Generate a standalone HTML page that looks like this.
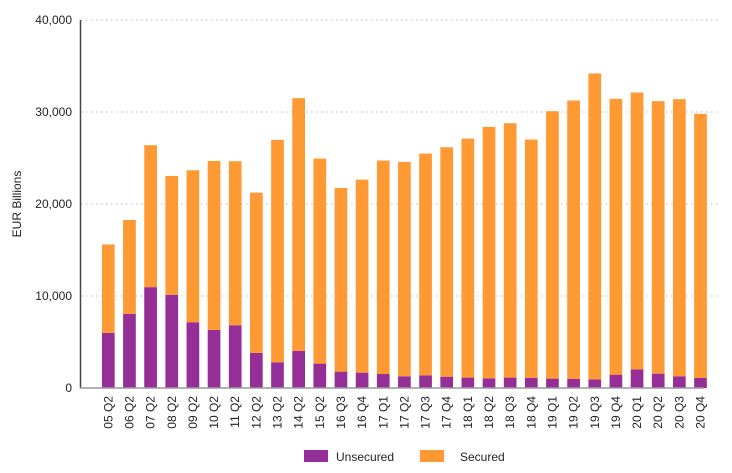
<!DOCTYPE html>
<html><head><meta charset="utf-8"><style>
body{margin:0;background:#fff;font-family:"Liberation Sans",sans-serif;}
svg text{font-family:"Liberation Sans",sans-serif;fill:#222;}
</style></head><body>
<svg id="chart" width="732" height="468">
<g id="grid"></g><g id="bars"></g><g id="axes"></g>
<text transform="translate(21,204) rotate(-90)" text-anchor="middle" font-size="12">EUR Billions</text>
<g>
<rect x="304" y="450" width="24" height="12" fill="#952f97"/>
<text x="336" y="461" font-size="12">Unsecured</text>
<rect x="420" y="450" width="24" height="12" fill="#ff9933"/>
<text x="460" y="461" font-size="12">Secured</text>
</g>
</svg>
<script>
const categories=["05 Q2","06 Q2","07 Q2","08 Q2","09 Q2","10 Q2","11 Q2","12 Q2","13 Q2","14 Q2","15 Q2","16 Q3","16 Q4","17 Q1","17 Q2","17 Q3","17 Q4","18 Q1","18 Q2","18 Q3","18 Q4","19 Q1","19 Q2","19 Q3","19 Q4","20 Q1","20 Q2","20 Q3","20 Q4"];
const unsecured=[5990,8060,10960,10130,7150,6320,6820,3810,2790,4030,2650,1780,1670,1520,1270,1380,1230,1130,1050,1130,1090,1020,980,940,1450,2030,1560,1270,1090];
const totals=[15600,18260,26390,23050,23670,24680,24650,21230,26970,31510,24940,21740,22650,24720,24570,25480,26170,27110,28380,28780,27010,30090,31250,34190,31430,32120,31180,31400,29800];
const yTicks=[0,10000,20000,30000,40000];
const yTickLabels=["0","10,000","20,000","30,000","40,000"];
const NS="http://www.w3.org/2000/svg";
const y0=388,yTop=20,yMax=40000;
function y(v){return y0-(v/yMax)*(y0-yTop);}
const step=21.15,x0=108.3,bw=12.7;
function xc(i){return x0+i*step;}
function mk(tag,attrs,parent){const e=document.createElementNS(NS,tag);for(const k in attrs)e.setAttribute(k,attrs[k]);parent.appendChild(e);return e;}
const grid=document.getElementById('grid'),bars=document.getElementById('bars'),axes=document.getElementById('axes');
yTicks.forEach((t,i)=>{
  if(t>0){const l=mk('line',{x1:81,x2:720,y1:y(t),y2:y(t),stroke:'#bbb','stroke-dasharray':'1.5,3.5'},grid);
  
  }
  const tx=mk('text',{x:72,y:y(t)+4,'text-anchor':'end','font-size':'12'},axes);
  tx.textContent=yTickLabels[i];
  
  
});
categories.forEach((c,i)=>{
  const cx=xc(i);
  const u=mk('rect',{x:cx-bw/2,y:y(unsecured[i]),width:bw,height:y0-y(unsecured[i]),fill:'#952f97'},bars);
  
  
  const s=mk('rect',{x:cx-bw/2,y:y(totals[i]),width:bw,height:y(unsecured[i])-y(totals[i]),fill:'#ff9933'},bars);
  
  
  const t=mk('text',{transform:`translate(${cx+4},396) rotate(-90)`,'text-anchor':'end','font-size':'12'},axes);
  t.textContent=c;
  
  
});
const ya=mk('line',{x1:80.5,x2:80.5,y1:yTop,y2:y0,stroke:'#444','stroke-width':1.5},axes);


const xa=mk('line',{x1:80,x2:704,y1:y0,y2:y0,stroke:'#999','stroke-width':1.5},axes);


</script>
</body></html>
